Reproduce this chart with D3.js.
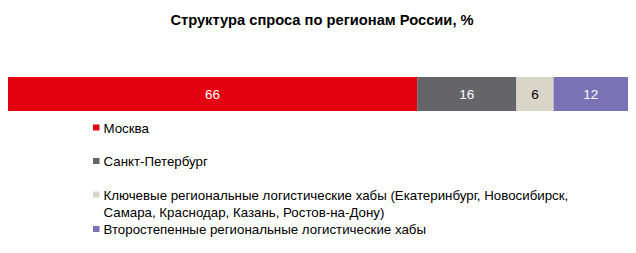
<!DOCTYPE html>
<html><head><meta charset="utf-8">
<script src="https://cdn.jsdelivr.net/npm/d3@7"></script>
<style>body{margin:0;background:#fff}</style>
</head><body>
<svg id="c" width="636" height="253"></svg>
<script>
const categories = ["Москва", "Санкт-Петербург", "Ключевые региональные логистические хабы (Екатеринбург, Новосибирск, Самара, Краснодар, Казань, Ростов-на-Дону)", "Второстепенные региональные логистические хабы"];
const legendLines = [["Москва"], ["Санкт-Петербург"], ["Ключевые региональные логистические хабы (Екатеринбург, Новосибирск,", "Самара, Краснодар, Казань, Ростов-на-Дону)"], ["Второстепенные региональные логистические хабы"]];
const values = [66, 16, 6, 12];
const colors = ["#E3000F", "#646469", "#DAD5C9", "#7A72B4"];
const labelColors = ["#fff", "#fff", "#000", "#fff"];
const title = "Структура спроса по регионам России, %";

const svg = d3.select("#c");
const font = "'Liberation Sans', Arial, sans-serif";
svg.append("text").attr("x", 322).attr("y", 25).attr("text-anchor", "middle")
  .attr("font-family", font).attr("font-weight", "bold").attr("font-size", 14.7).text(title);

const total = d3.sum(values);
const x = d3.scaleLinear().domain([0, total]).range([8, 628]);
const starts = d3.cumsum([0, ...values]);
const g = svg.append("g");
values.forEach((v, i) => {
  g.append("rect").attr("x", x(starts[i])).attr("y", 77)
    .attr("width", x(starts[i] + v) - x(starts[i])).attr("height", 34).attr("fill", colors[i]);
  g.append("text").attr("x", (x(starts[i]) + x(starts[i] + v)) / 2).attr("y", 99)
    .attr("text-anchor", "middle").attr("font-family", "'Liberation Sans Narrow', " + font)
    .attr("font-size", 13.5).attr("fill", labelColors[i]).text(v);
});

const legendY = [127.5, 161, 194.5, 229];
legendLines.forEach((lines, i) => {
  svg.append("rect").attr("x", 93).attr("y", legendY[i] - 3).attr("width", 6.5).attr("height", 6).attr("fill", colors[i]);
  lines.forEach((ln, j) => {
    svg.append("text").attr("x", 103.5).attr("y", legendY[i] + 5 + j * 17)
      .attr("font-family", font).attr("font-size", 13.3).attr("fill", "#000").text(ln);
  });
});
</script>
</body></html>
